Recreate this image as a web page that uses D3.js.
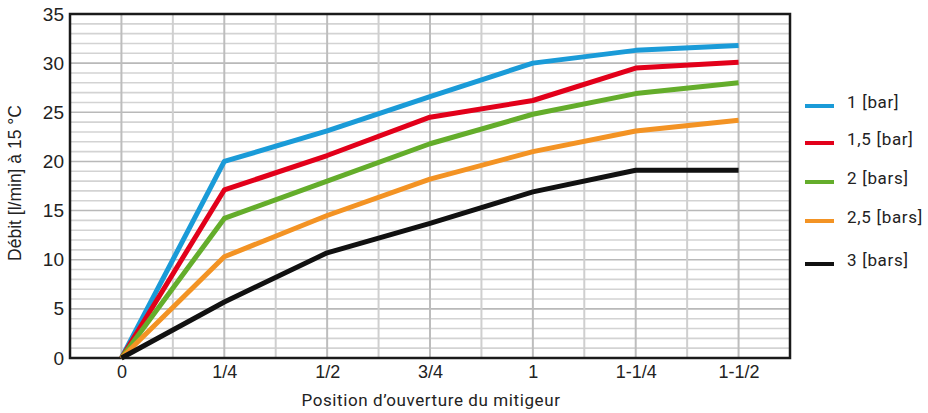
<!DOCTYPE html>
<html>
<head>
<meta charset="utf-8">
<script src="https://cdn.jsdelivr.net/npm/d3@7"></script>
<style>
html,body{margin:0;padding:0;background:#fff;}
svg{display:block;}
</style>
</head>
<body>
<svg id="chart" width="928" height="413"></svg>
<script>
const categories = ["0", "1/4", "1/2", "3/4", "1", "1-1/4", "1-1/2"];
const seriesNames = ["1 [bar]", "1,5 [bar]", "2 [bars]", "2,5 [bars]", "3 [bars]"];
const seriesColors = ["#1a9bd8", "#e2001a", "#64ad2b", "#f39324", "#111111"];
const bar1 = [0, 20.0, 23.1, 26.6, 30.0, 31.3, 31.8];
const bar15 = [0, 17.1, 20.6, 24.5, 26.2, 29.5, 30.1];
const bar2 = [0, 14.2, 18.0, 21.8, 24.8, 26.9, 28.0];
const bar25 = [0, 10.3, 14.5, 18.2, 21.0, 23.1, 24.2];
const bar3 = [0, 5.7, 10.7, 13.7, 16.9, 19.1, 19.1];
const yTicks = [0, 5, 10, 15, 20, 25, 30, 35];
const yLabel = "Débit [l/min] à 15 °C";
const xLabel = "Position d\u2019ouverture du mitigeur";

const seriesValues = [bar1, bar15, bar2, bar25, bar3];

const svg = d3.select("#chart");
const m = {left: 70, right: 138, top: 14, bottom: 55};
const W = 928, H = 413;
const x0 = m.left, x1 = W - m.right, y0 = H - m.bottom, y1 = m.top;

const x = d3.scaleLinear().domain([-0.5, categories.length - 0.5]).range([x0, x1]);
const y = d3.scaleLinear().domain([0, 35]).range([y0, y1]);

const g = svg.append("g");

// horizontal grid (every 1 unit)
const hLines = d3.range(1, 35);
g.selectAll("line.h").data(hLines).enter().append("line")
  .attr("x1", x0).attr("x2", x1)
  .attr("y1", d => y(d)).attr("y2", d => y(d))
  .attr("stroke", d => d % 5 === 0 ? "#b9b9b9" : "#d3d3d3")
  .attr("stroke-width", 1.6);

// vertical grid (half steps)
const vLines = d3.range(0, categories.length * 2 - 1).map(i => i / 2);
g.selectAll("line.v").data(vLines).enter().append("line")
  .attr("y1", y0).attr("y2", y1)
  .attr("x1", d => x(d)).attr("x2", d => x(d))
  .attr("stroke", d => Number.isInteger(d) ? "#bdbdbd" : "#cfcfcf")
  .attr("stroke-width", 2);

// frame
g.append("rect").attr("x", x0).attr("y", y1).attr("width", x1 - x0).attr("height", y0 - y1)
  .attr("fill", "none").attr("stroke", "#1a1a1a").attr("stroke-width", 2.5);

// y axis labels
const yAxis = d3.axisLeft(y).tickValues(yTicks).tickSize(0).tickPadding(6);
const ya = svg.append("g").attr("transform", `translate(${x0},0)`).call(yAxis);
ya.select(".domain").remove();
ya.selectAll("text").attr("font-family", "Liberation Sans, Arial, sans-serif")
  .attr("font-size", 19).attr("fill", "#222");

// x axis labels
const xAxis = d3.axisBottom(x).tickValues(d3.range(categories.length))
  .tickFormat(i => categories[i]).tickSize(0).tickPadding(7);
const xa = svg.append("g").attr("transform", `translate(0,${y0})`).call(xAxis);
xa.select(".domain").remove();
xa.selectAll("text").attr("font-family", "Liberation Sans, Arial, sans-serif")
  .attr("font-size", 18).attr("fill", "#222");

// lines
const line = d3.line().x((d, i) => x(i)).y(d => y(d));
seriesValues.forEach((vals, k) => {
  svg.append("path").datum(vals)
    .attr("d", line)
    .attr("fill", "none")
    .attr("stroke", seriesColors[k])
    .attr("stroke-width", 5)
    .attr("stroke-linejoin", "round");
});

// legend
const legY = [105, 142, 181, 220, 263];
seriesNames.forEach((name, k) => {
  svg.append("line").attr("x1", 805).attr("x2", 834)
    .attr("y1", legY[k] + 1).attr("y2", legY[k] + 1)
    .attr("stroke", seriesColors[k]).attr("stroke-width", 4);
  svg.append("text").attr("x", 847).attr("y", legY[k] - 1)
    .attr("dominant-baseline", "middle")
    .attr("font-family", "Roboto, sans-serif").attr("font-size", 17)
    .attr("letter-spacing", 0.7)
    .attr("fill", "#222").text(name);
});

// axis titles
svg.append("text").attr("transform", `translate(21,183) rotate(-90)`)
  .attr("text-anchor", "middle")
  .attr("font-family", "Liberation Sans, Arial, sans-serif").attr("font-size", 17.5)
  .attr("fill", "#222").text(yLabel);
svg.append("text").attr("x", 431).attr("y", 406)
  .attr("text-anchor", "middle")
  .attr("font-family", "Roboto, sans-serif").attr("font-size", 17)
  .attr("letter-spacing", 0.6)
  .attr("fill", "#222").text(xLabel);
</script>
</body>
</html>
